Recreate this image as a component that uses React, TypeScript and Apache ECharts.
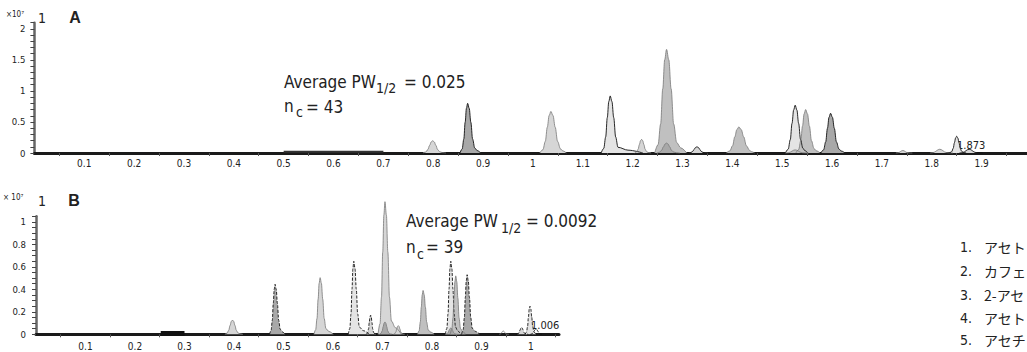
import React, { useEffect, useRef } from "react";
import * as echarts from "echarts";

const FONT = "'Liberation Sans Narrow', 'DejaVu Sans Condensed', Roboto, sans-serif";
const CJK = "'Noto Sans CJK JP', sans-serif";

// ---- Chromatogram A (retention time, min ; intensity ×10^7) ----
const A_CENTERS = [0.799, 0.869, 1.036, 1.155, 1.218, 1.268, 1.268, 1.329, 1.413, 1.526, 1.526, 1.547, 1.597, 1.742, 1.816, 1.850, 1.875];
const A_HEIGHTS = [0.198, 0.80, 0.67, 0.92, 0.22, 1.67, 0.16, 0.10, 0.42, 0.77, 0.05, 0.70, 0.64, 0.04, 0.06, 0.27, 0.06];
const A_FWHM = [0.014, 0.011, 0.016, 0.013, 0.010, 0.017, 0.014, 0.012, 0.018, 0.014, 0.014, 0.014, 0.014, 0.010, 0.014, 0.010, 0.014];
const A_ASYM = [1, 1.3, 1.2, 1.2, 1, 1.2, 1, 1, 1.2, 1.1, 1, 1.2, 1.2, 1, 1, 1, 1];
const A_TAIL = [0, 0.012, 0.012, 0.05, 0, 0.02, 0, 0, 0.01, 0.01, 0, 0.012, 0.012, 0, 0, 0, 0];

// ---- Chromatogram B ----
const B_CENTERS = [0.397, 0.483, 0.574, 0.642, 0.676, 0.705, 0.705, 0.732, 0.782, 0.838, 0.848, 0.838, 0.871, 0.944, 0.981, 0.998, 1.010];
const B_HEIGHTS = [0.127, 0.445, 0.504, 0.65, 0.17, 1.18, 0.11, 0.077, 0.39, 0.65, 0.52, 0.056, 0.53, 0.03, 0.06, 0.25, 0.047];
const B_FWHM = [0.011, 0.008, 0.009, 0.008, 0.006, 0.010, 0.008, 0.007, 0.008, 0.008, 0.008, 0.008, 0.008, 0.006, 0.007, 0.007, 0.008];
const B_ASYM = [1, 1.3, 1.3, 1.4, 1, 1.3, 1, 1, 1.3, 1.2, 1.2, 1, 1.3, 1, 1, 1.1, 1];
const B_TAIL = [0, 0.01, 0.015, 0.02, 0, 0.02, 0, 0, 0.012, 0.01, 0.01, 0, 0.015, 0, 0, 0.005, 0];

// thick baseline segments (x start, x end)
const A_BAR = [0.5, 0.7];
const B_BAR = [0.252, 0.3];

const PEAK_LABEL_A = "1.873";
const PEAK_LABEL_B = "1.006";

// peak list (only the visible part of each name is shown at the page's right edge)
const LEGEND_NUMS = ["1.", "2.", "3.", "4.", "5."];
const LEGEND_NAMES = ["アセト", "カフェ", "2-アセ", "アセト", "アセチ"];

// styles (fill shade + outline) kept apart from the data
const A_STYLE = ["Lg", "Dk", "Lg", "Wk", "Lg", "Mg", "Dg", "Lk", "Mg", "Wk", "Mg", "Mg", "Dk", "Lg", "Lg", "Wk", "Lk"];
const B_STYLE = ["Lg", "Dk", "Lg", "Wk", "Lk", "Lg", "Dg", "Lg", "Mg", "Wk", "Mg", "Dg", "Dk", "Ng", "Lk", "Wk", "Nk"];
const FILLS: Record<string, string> = { W: "#e4e4e4", L: "#d6d6d6", M: "#c0c0c0", D: "#a8a8a8" };

// tabulated peak template (offsets in FWHM units, relative height)
const PROFILE_LEFT = [[-1.4, 0], [-1.0, 0.08], [-0.7, 0.28], [-0.45, 0.62], [-0.22, 0.9], [0, 1]];
const PROFILE_RIGHT = [[0.22, 0.9], [0.45, 0.62], [0.7, 0.28], [1.0, 0.1]];

function peakPoints(c: number, h: number, w: number, asym: number, tail: number) {
  const pts: number[][] = [];
  PROFILE_LEFT.forEach(([o, f]) => pts.push([c + o * w, f * h]));
  PROFILE_RIGHT.forEach(([o, f]) => pts.push([c + o * w * asym, f * h]));
  const end = c + w * asym;
  if (tail > 0) {
    pts.push([end + tail * 0.4, 0.05 * h]);
    pts.push([end + tail, 0]);
  } else {
    pts.push([end + 0.4 * w * asym, 0.03 * h]);
    pts.push([end + 0.9 * w * asym, 0]);
  }
  return pts;
}

function buildSeries(
  centers: number[], heights: number[], fwhm: number[], asym: number[], tails: number[],
  styles: string[], idx: number, dashed: boolean
) {
  return centers.map((c, i) => {
    const s = styles[i];
    const black = s[1] === "k";
    const fill = FILLS[s[0]];
    return {
      type: "line",
      xAxisIndex: idx,
      yAxisIndex: idx,
      data: peakPoints(c, heights[i], fwhm[i], asym[i], tails[i]),
      smooth: 0.35,
      smoothMonotone: "x",
      symbol: "none",
      silent: true,
      clip: false,
      lineStyle: {
        color: black ? "#111" : "#777",
        width: black ? 0.9 : 0.8,
        type: black && dashed ? [3, 1.5] : "solid",
      },
      areaStyle: fill ? { color: fill, opacity: 1 } : undefined,
    };
  });
}

const xFmt = (v: number) => String(+v.toFixed(2));

function xAxisCfg(idx: number, max: number, margin: number) {
  return {
    type: "value",
    gridIndex: idx,
    min: 0,
    max,
    interval: 0.1,
    axisLine: { show: true, onZero: false, lineStyle: { color: "#1a1a1a", width: 3 } },
    axisTick: { show: false },
    minorTick: { show: true, splitNumber: 2, length: 3, lineStyle: { color: "#555", width: 1 } },
    splitLine: { show: false },
    minorSplitLine: { show: false },
    axisLabel: {
      margin,
      fontSize: 10,
      fontFamily: FONT,
      color: "#222",
      showMinLabel: false,
      showMaxLabel: false,
      formatter: xFmt,
    },
  };
}

function yAxisCfg(idx: number, max: number, interval: number, labelStep: number, margin: number, pad: number) {
  return {
    type: "value",
    gridIndex: idx,
    min: 0,
    max,
    interval,
    axisLine: { show: true, lineStyle: { color: "#666", width: 2.5 } },
    axisTick: { show: true, length: 4, lineStyle: { color: "#444", width: 1 } },
    splitLine: { show: false },
    axisLabel: {
      margin,
      fontSize: 9.5,
      fontFamily: FONT,
      color: "#222",
      padding: [0, 0, pad, 0],
      formatter: (v: number) => {
        const r = v / labelStep;
        return Math.abs(r - Math.round(r)) < 1e-6 ? String(+v.toFixed(2)) : "";
      },
    },
  };
}

function txt(text: string, x: number, y: number, fontSize: number, extra: any = {}) {
  return {
    type: "text",
    x,
    y,
    silent: true,
    style: {
      text,
      fontSize,
      fontFamily: FONT,
      fill: "#222",
      verticalAlign: "middle",
      align: "left",
      ...extra,
    },
  };
}

export default function App() {
  const ref = useRef<HTMLDivElement>(null);
  useEffect(() => {
    if (!ref.current) return;
    const chart = echarts.init(ref.current, undefined, { renderer: "svg" });

    const series: any[] = [
      ...buildSeries(A_CENTERS, A_HEIGHTS, A_FWHM, A_ASYM, A_TAIL, A_STYLE, 0, false),
      ...buildSeries(B_CENTERS, B_HEIGHTS, B_FWHM, B_ASYM, B_TAIL, B_STYLE, 1, true),
      {
        type: "line", xAxisIndex: 0, yAxisIndex: 0, symbol: "none", silent: true,
        data: [[A_BAR[0], 0.02], [A_BAR[1], 0.02]],
        lineStyle: { color: "#333", width: 2 },
      },
      {
        type: "line", xAxisIndex: 1, yAxisIndex: 1, symbol: "none", silent: true,
        data: [[B_BAR[0], 0.007], [B_BAR[1], 0.007]],
        lineStyle: { color: "#111", width: 5 },
      },
    ];

    const graphic: any[] = [
      txt("×10⁷", 6, 14, 8),
      txt("1", 38, 18, 14),
      txt("A", 75, 17, 16, { fontFamily: "'Liberation Sans', Arial, sans-serif", fontWeight: "bold", align: "center" }),
      txt("× 10⁷", 3, 197, 8),
      txt("1", 38, 201, 14),
      txt("B", 74, 200, 16, { fontFamily: "'Liberation Sans', Arial, sans-serif", fontWeight: "bold", align: "center" }),

      txt("Average PW", 284, 82, 17),
      txt("1/2", 376, 88, 14),
      txt("= 0.025", 404, 82, 17),
      txt("n", 284, 106, 17),
      txt("c", 296, 112, 14),
      txt("= 43", 306, 107, 17),

      txt("Average PW", 406, 221, 17),
      txt("1/2", 501, 228, 14),
      txt("= 0.0092", 526, 221, 17),
      txt("n", 406, 247, 17),
      txt("c", 417, 254, 14),
      txt("= 39", 426, 247, 17),

      txt(PEAK_LABEL_A, 957, 145, 11),
      txt(PEAK_LABEL_B, 531, 325, 11),
    ];
    const legendY = [247, 271, 295, 318, 340];
    LEGEND_NUMS.forEach((n, i) => {
      graphic.push(txt(n, 960, legendY[i], 14));
      graphic.push(txt(LEGEND_NAMES[i], 984, legendY[i], 14, { fontFamily: CJK }));
    });

    chart.setOption({
      animation: false,
      backgroundColor: "#fff",
      grid: [
        { left: 34.4, top: 22.7, width: 992.6, height: 130.3, containLabel: false },
        { left: 36, top: 216.3, width: 523, height: 118, containLabel: false },
      ],
      xAxis: [xAxisCfg(0, 1.991, 5), xAxisCfg(1, 1.0566, 7)],
      yAxis: [yAxisCfg(0, 2.1, 0.1, 0.5, 9, 9), yAxisCfg(1, 1.05, 0.05, 0.2, 10, 5)],
      series,
      graphic,
    });
    return () => chart.dispose();
  }, []);
  return (
    <div
      ref={ref}
      style={{ position: "absolute", left: 0, top: 0, width: 1027, height: 352, overflow: "hidden" }}
    />
  );
}
